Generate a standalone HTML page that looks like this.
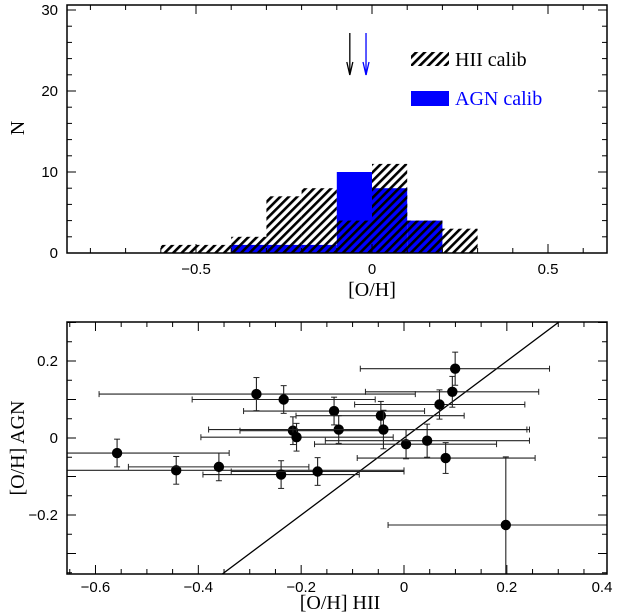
<!DOCTYPE html>
<html><head><meta charset="utf-8"><style>
html,body{margin:0;padding:0;background:#fff;width:619px;height:615px;overflow:hidden;}
svg{display:block;font-family:"Liberation Sans",sans-serif;}
.lab{font-family:"Liberation Serif",serif;font-size:20px;}
</style></head><body>
<svg id="chart" width="619" height="615" viewBox="0 0 619 615">
<defs>
<pattern id="hatch" patternUnits="userSpaceOnUse" width="6" height="6" patternTransform="rotate(45)">
<rect x="0" y="0" width="2.6" height="6" fill="#000"/>
</pattern>
<clipPath id="clipB"><rect x="67" y="322" width="540" height="252"/></clipPath>
</defs>
<g id="top"></g>
<g id="bot"></g>
</svg>
<script>
// Histogram data
const binEdges = [-0.6,-0.5,-0.4,-0.3,-0.2,-0.1,0,0.1,0.2];
const hiiCounts = [1,1,2,7,8,4,11,4,3];
const hiiLo = [-0.6,-0.5,-0.4,-0.3,-0.2,-0.1,0,0.1,0.2];
const agnLo = [-0.4,-0.3,-0.2,-0.1,0,0.1];
const agnCounts = [1,1,1,10,8,4];
const binWidth = 0.1;
const meanHII = -0.063;
const meanAGN = -0.017;
const histXTicks = [-0.5,0,0.5];
const histYTicks = [0,10,20,30];

// Scatter data
const ptX = [0.0995,0.094,-0.287,-0.234,0.069,-0.136,-0.045,-0.216,-0.127,-0.040,-0.209,0.004,0.045,0.081,-0.558,-0.443,-0.360,-0.239,-0.168,0.198];
const ptY = [0.180,0.120,0.114,0.100,0.087,0.070,0.058,0.019,0.022,0.022,0.002,-0.016,-0.007,-0.052,-0.039,-0.084,-0.075,-0.095,-0.087,-0.226];
const xLo = [-0.085,-0.075,-0.593,-0.412,-0.096,-0.312,-0.210,-0.319,-0.380,-0.216,-0.395,-0.174,-0.153,-0.091,-0.666,-0.666,-0.536,-0.391,-0.336,-0.031];
const xHi = [0.283,0.262,0.022,-0.056,0.235,0.040,0.117,-0.035,0.239,0.244,-0.021,0.180,0.244,0.255,-0.340,0.000,-0.185,-0.087,0.000,0.420];
const yErrLo = [0.043,0.040,0.043,0.036,0.038,0.036,0.037,0.036,0.036,0.050,0.036,0.038,0.043,0.040,0.036,0.036,0.036,0.036,0.036,0.140];
const yErrHi = [0.043,0.040,0.043,0.036,0.038,0.036,0.037,0.036,0.036,0.050,0.036,0.038,0.043,0.040,0.036,0.036,0.036,0.036,0.036,0.177];
const scatXTicks = [-0.6,-0.4,-0.2,0,0.2,0.4];
const scatYTicks = [-0.2,0,0.2];

const NS="http://www.w3.org/2000/svg";
function mk(parent,tag,attrs){const e=document.createElementNS(NS,tag);for(const k in attrs)e.setAttribute(k,attrs[k]);parent.appendChild(e);return e;}

// ---- top panel
const T=document.getElementById('top');
const tx=v=>372+v*352, ty=v=>253-v*8.1;
hiiLo.forEach((lo,i)=>{const r=mk(T,'rect',{x:tx(lo),y:ty(hiiCounts[i]),width:tx(lo+binWidth)-tx(lo),height:ty(0)-ty(hiiCounts[i]),fill:'url(#hatch)'});

});
agnLo.forEach((lo,i)=>{const r=mk(T,'rect',{x:tx(lo),y:ty(agnCounts[i]),width:tx(lo+binWidth)-tx(lo),height:ty(0)-ty(agnCounts[i]),fill:'#0000ff'});

});
hiiLo.forEach((lo,i)=>{const j=agnLo.findIndex(a=>Math.abs(a-lo)<1e-6);if(j<0)return;const h=Math.min(hiiCounts[i],agnCounts[j]);
const r=mk(T,'rect',{x:tx(lo),y:ty(h),width:tx(lo+binWidth)-tx(lo),height:ty(0)-ty(h),fill:'url(#hatch)'});

});
mk(T,'rect',{x:67,y:5,width:540,height:248,fill:'none',stroke:'#000','stroke-width':1.5});
for(let v=-0.8;v<=0.65;v+=0.1){const vv=Math.round(v*10)/10;const X=tx(vv);const L=Math.abs(vv*2-Math.round(vv*2))<1e-6?9:5;
mk(T,'line',{x1:X,y1:253,x2:X,y2:253-L,stroke:'#000'});mk(T,'line',{x1:X,y1:5,x2:X,y2:5+L,stroke:'#000'});}
for(let v=0;v<=30;v+=2){const Y=ty(v);const L=v%10==0?9:5;mk(T,'line',{x1:67,y1:Y,x2:67+L,y2:Y,stroke:'#000'});mk(T,'line',{x1:607,y1:Y,x2:607-L,y2:Y,stroke:'#000'});}
histXTicks.forEach(v=>{const t=mk(T,'text',{x:tx(v),y:274,'font-size':15,'text-anchor':'middle'});t.textContent=(v<0?'\u22120.5':v==0?'0':'0.5');

});
histYTicks.forEach(v=>{const t=mk(T,'text',{x:58,y:ty(v)+5,'font-size':15,'text-anchor':'end'});t.textContent=v;

});
[[meanHII,'#000'],[meanAGN,'#0000ff']].forEach(([m,c])=>{const X=tx(m);mk(T,'line',{x1:X,y1:33,x2:X,y2:75,stroke:c,'stroke-width':1.3});
mk(T,'polyline',{points:`${X-3},62 ${X},75 ${X+3},62`,fill:'none',stroke:c,'stroke-width':1.3});});
mk(T,'rect',{x:411,y:52,width:38,height:14,fill:'url(#hatch)',});
let t1=mk(T,'text',{x:455,y:66,class:'lab'});t1.textContent='HII  calib';

mk(T,'rect',{x:411,y:91,width:38,height:15,fill:'#0000ff',});
let t2=mk(T,'text',{x:455,y:105,class:'lab',fill:'#0000ff'});t2.textContent='AGN  calib';

let tl=mk(T,'text',{x:372,y:296,class:'lab','text-anchor':'middle'});tl.textContent='[O/H]';

let nl=mk(T,'text',{x:0,y:0,class:'lab','text-anchor':'middle',transform:'translate(24,128) rotate(-90)'});nl.textContent='N';


// ---- bottom panel
const B=document.getElementById('bot');
const sx=v=>404+v*514.2, sy=v=>438-v*385;
const G=mk(B,'g',{'clip-path':'url(#clipB)'});
mk(G,'line',{x1:sx(-0.7),y1:sy(-0.7),x2:sx(0.4),y2:sy(0.4),stroke:'#000','stroke-width':1.3,});
ptX.forEach((x,i)=>{const y=ptY[i];const g=mk(G,'g',{});


const X=sx(x),Y=sy(y),x1=sx(xLo[i]),x2=sx(xHi[i]),y1=sy(y+yErrHi[i]),y2=sy(y-yErrLo[i]);
mk(g,'line',{x1:x1,y1:Y,x2:x2,y2:Y,stroke:'#222','stroke-width':1.1});
mk(g,'line',{x1:x1,y1:Y-3,x2:x1,y2:Y+3,stroke:'#222'});mk(g,'line',{x1:x2,y1:Y-3,x2:x2,y2:Y+3,stroke:'#222'});
mk(g,'line',{x1:X,y1:y1,x2:X,y2:y2,stroke:'#222','stroke-width':1.1});
mk(g,'line',{x1:X-3,y1:y1,x2:X+3,y2:y1,stroke:'#222'});mk(g,'line',{x1:X-3,y1:y2,x2:X+3,y2:y2,stroke:'#222'});
mk(g,'circle',{cx:X,cy:Y,r:5.2,fill:'#000'});});
mk(B,'rect',{x:67,y:322,width:540,height:252,fill:'none',stroke:'#000','stroke-width':1.5});
for(let k=-13;k<=8;k++){const v=k*0.05;const X=sx(v);if(X<67||X>607)continue;const L=k%4==0?9:5;
mk(B,'line',{x1:X,y1:574,x2:X,y2:574-L,stroke:'#000'});mk(B,'line',{x1:X,y1:322,x2:X,y2:322+L,stroke:'#000'});}
for(let k=-7;k<=6;k++){const v=k*0.05;const Y=sy(v);if(Y<322||Y>574)continue;const L=k%2==0?9:5;
mk(B,'line',{x1:67,y1:Y,x2:67+L,y2:Y,stroke:'#000'});mk(B,'line',{x1:607,y1:Y,x2:607-L,y2:Y,stroke:'#000'});}
scatXTicks.forEach(v=>{const t=mk(B,'text',{x:Math.min(sx(v),602),y:592,'font-size':15,'text-anchor':'middle'});t.textContent=(v<0?'\u2212'+(-v).toFixed(1):v==0?'0':v.toFixed(1));

});
scatYTicks.forEach(v=>{const t=mk(B,'text',{x:58,y:sy(v)+5,'font-size':15,'text-anchor':'end'});t.textContent=(v<0?'\u2212'+(-v).toFixed(1):v==0?'0':v.toFixed(1));

});
let bx=mk(B,'text',{x:340,y:609,class:'lab','text-anchor':'middle'});bx.textContent='[O/H]  HII';

let by=mk(B,'text',{x:0,y:0,class:'lab','text-anchor':'middle',transform:'translate(24,448) rotate(-90)'});by.textContent='[O/H]  AGN';

</script>
</body></html>
